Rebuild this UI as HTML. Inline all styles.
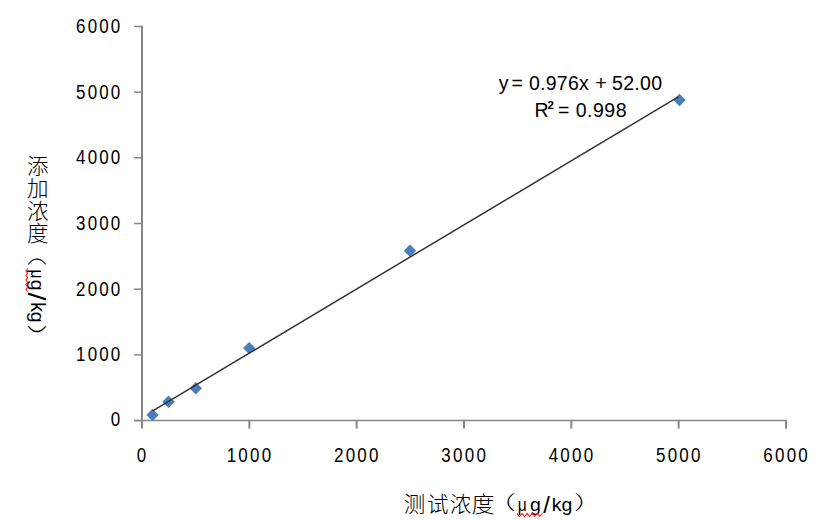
<!DOCTYPE html>
<html><head><meta charset="utf-8"><style>
html,body{margin:0;padding:0;background:#fff;}
body{width:828px;height:520px;overflow:hidden;}
svg{display:block;}
text{fill:#000;}
</style></head><body>
<svg width="828" height="520" viewBox="0 0 828 520">
<line x1="142.0" y1="25.75" x2="142.0" y2="428.6" stroke="#878787" stroke-width="2"/>
<line x1="134" y1="420.60" x2="142.0" y2="420.60" stroke="#878787" stroke-width="1.5"/>
<line x1="134" y1="354.91" x2="142.0" y2="354.91" stroke="#878787" stroke-width="1.5"/>
<line x1="134" y1="289.22" x2="142.0" y2="289.22" stroke="#878787" stroke-width="1.5"/>
<line x1="134" y1="223.53" x2="142.0" y2="223.53" stroke="#878787" stroke-width="1.5"/>
<line x1="134" y1="157.84" x2="142.0" y2="157.84" stroke="#878787" stroke-width="1.5"/>
<line x1="134" y1="92.15" x2="142.0" y2="92.15" stroke="#878787" stroke-width="1.5"/>
<line x1="134" y1="26.46" x2="142.0" y2="26.46" stroke="#878787" stroke-width="1.5"/>
<line x1="134" y1="420.6" x2="787" y2="420.6" stroke="#878787" stroke-width="1.5"/>
<line x1="249.33" y1="419.85" x2="249.33" y2="428.6" stroke="#878787" stroke-width="2"/>
<line x1="356.66" y1="419.85" x2="356.66" y2="428.6" stroke="#878787" stroke-width="2"/>
<line x1="463.99" y1="419.85" x2="463.99" y2="428.6" stroke="#878787" stroke-width="2"/>
<line x1="571.32" y1="419.85" x2="571.32" y2="428.6" stroke="#878787" stroke-width="2"/>
<line x1="678.65" y1="419.85" x2="678.65" y2="428.6" stroke="#878787" stroke-width="2"/>
<line x1="785.98" y1="419.85" x2="785.98" y2="428.6" stroke="#878787" stroke-width="2"/>
<polygon points="152.5,408.8 158.7,415.0 152.5,421.2 146.3,415.0" fill="#4a7ebb"/>
<polygon points="168.5,395.6 174.7,401.8 168.5,408.0 162.3,401.8" fill="#4a7ebb"/>
<polygon points="195.8,382.0 202.0,388.2 195.8,394.4 189.6,388.2" fill="#4a7ebb"/>
<polygon points="249.2,341.9 255.4,348.1 249.2,354.3 243.0,348.1" fill="#4a7ebb"/>
<polygon points="410.0,244.6 416.2,250.8 410.0,257.0 403.8,250.8" fill="#4a7ebb"/>
<polygon points="679.5,93.8 685.7,100.0 679.5,106.2 673.3,100.0" fill="#4a7ebb"/>
<line x1="152.73" y1="410.77" x2="678.65" y2="96.62" stroke="#333" stroke-width="1.5"/>
<text transform="translate(122.2,425.90) scale(0.87,1)" text-anchor="end" font-size="19.5" letter-spacing="2.4" font-family="Liberation Sans, sans-serif">0</text>
<text transform="translate(122.2,361.21) scale(0.87,1)" text-anchor="end" font-size="19.5" letter-spacing="2.4" font-family="Liberation Sans, sans-serif">1000</text>
<text transform="translate(122.2,295.52) scale(0.87,1)" text-anchor="end" font-size="19.5" letter-spacing="2.4" font-family="Liberation Sans, sans-serif">2000</text>
<text transform="translate(122.2,229.83) scale(0.87,1)" text-anchor="end" font-size="19.5" letter-spacing="2.4" font-family="Liberation Sans, sans-serif">3000</text>
<text transform="translate(122.2,164.14) scale(0.87,1)" text-anchor="end" font-size="19.5" letter-spacing="2.4" font-family="Liberation Sans, sans-serif">4000</text>
<text transform="translate(122.2,98.65) scale(0.87,1)" text-anchor="end" font-size="19.5" letter-spacing="2.4" font-family="Liberation Sans, sans-serif">5000</text>
<text transform="translate(122.2,33.06) scale(0.87,1)" text-anchor="end" font-size="19.5" letter-spacing="2.4" font-family="Liberation Sans, sans-serif">6000</text>
<text transform="translate(142.70,462.2) scale(0.87,1)" text-anchor="middle" font-size="19.5" letter-spacing="2.6" font-family="Liberation Sans, sans-serif">0</text>
<text transform="translate(250.03,462.2) scale(0.87,1)" text-anchor="middle" font-size="19.5" letter-spacing="2.6" font-family="Liberation Sans, sans-serif">1000</text>
<text transform="translate(357.36,462.2) scale(0.87,1)" text-anchor="middle" font-size="19.5" letter-spacing="2.6" font-family="Liberation Sans, sans-serif">2000</text>
<text transform="translate(464.69,462.2) scale(0.87,1)" text-anchor="middle" font-size="19.5" letter-spacing="2.6" font-family="Liberation Sans, sans-serif">3000</text>
<text transform="translate(572.02,462.2) scale(0.87,1)" text-anchor="middle" font-size="19.5" letter-spacing="2.6" font-family="Liberation Sans, sans-serif">4000</text>
<text transform="translate(679.35,462.2) scale(0.87,1)" text-anchor="middle" font-size="19.5" letter-spacing="2.6" font-family="Liberation Sans, sans-serif">5000</text>
<text transform="translate(786.68,462.2) scale(0.87,1)" text-anchor="middle" font-size="19.5" letter-spacing="2.6" font-family="Liberation Sans, sans-serif">6000</text>
<text y="90" font-size="19.5" font-family="Liberation Sans, sans-serif"><tspan x="498.7">y </tspan><tspan x="511.4">= </tspan><tspan x="529" letter-spacing="0.25">0.976x </tspan><tspan x="595.2" letter-spacing="0">+ </tspan><tspan x="612" letter-spacing="0.3">52.00</tspan></text>
<text y="117" font-size="19.5" font-family="Liberation Sans, sans-serif"><tspan x="534.5">R</tspan><tspan x="547.5" y="109.3" font-size="11.5" font-weight="bold">2</tspan><tspan x="558" y="117">= </tspan><tspan x="575.7" letter-spacing="0.5">0.998</tspan></text>
<text transform="translate(403.70,511.50)" font-size="21.5" font-family="Liberation Sans, Noto Sans CJK SC, sans-serif" font-weight="300">测</text>
<text transform="translate(426.90,511.50)" font-size="21.5" font-family="Liberation Sans, Noto Sans CJK SC, sans-serif" font-weight="300">试</text>
<text transform="translate(449.80,511.50)" font-size="21.5" font-family="Liberation Sans, Noto Sans CJK SC, sans-serif" font-weight="300">浓</text>
<text transform="translate(471.50,511.50) scale(1.07,1)" font-size="21.5" font-family="Liberation Sans, Noto Sans CJK SC, sans-serif" font-weight="300">度</text>
<text transform="translate(487.50,510.20) scale(1.3,0.88)" font-size="21.5" font-family="Liberation Sans, Noto Sans CJK SC, sans-serif" font-weight="300">（</text>
<text transform="translate(574.30,510.20) scale(1.3,0.88)" font-size="21.5" font-family="Liberation Sans, Noto Sans CJK SC, sans-serif" font-weight="300">）</text>
<text transform="translate(517.80,511.00) scale(0.8,0.91)" font-size="19.5" font-family="Liberation Sans, sans-serif">μ</text>
<text transform="translate(529.90,511.00) scale(1,0.91)" font-size="19.5" font-family="Liberation Sans, sans-serif">g</text>
<text transform="translate(543.20,513.20)" font-size="24" font-family="Liberation Sans, sans-serif">/</text>
<text transform="translate(551.80,511.00) scale(1,0.91)" font-size="19.5" font-family="Liberation Sans, sans-serif">k</text>
<text transform="translate(561.50,511.00) scale(1,0.91)" font-size="19.5" font-family="Liberation Sans, sans-serif">g</text>
<polyline points="516.9,513.4 519.4,516.5 522.0,513.4 524.5,516.5 527.1,513.4 529.6,516.5 532.2,513.4 534.7,516.5 537.3,513.4 539.8,516.5 542.4,513.4" fill="none" stroke="#ff2020" stroke-width="1.1"/>
<text transform="translate(27.00,174.30)" font-size="21.5" font-family="Liberation Sans, Noto Sans CJK SC, sans-serif" font-weight="300">添</text>
<text transform="translate(27.00,195.90)" font-size="21.5" font-family="Liberation Sans, Noto Sans CJK SC, sans-serif" font-weight="300">加</text>
<text transform="translate(27.00,219.30)" font-size="21.5" font-family="Liberation Sans, Noto Sans CJK SC, sans-serif" font-weight="300">浓</text>
<text transform="translate(27.00,241.30)" font-size="21.5" font-family="Liberation Sans, Noto Sans CJK SC, sans-serif" font-weight="300">度</text>
<text transform="translate(29.40,238.50) rotate(90) scale(1.3,0.88)" font-size="21.5" font-family="Liberation Sans, Noto Sans CJK SC, sans-serif" font-weight="300">（</text>
<text transform="translate(29.40,324.20) rotate(90) scale(1.3,0.88)" font-size="21.5" font-family="Liberation Sans, Noto Sans CJK SC, sans-serif" font-weight="300">）</text>
<text transform="translate(31.40,269.60) rotate(90) scale(0.8,0.9)" font-size="19.5" font-family="Liberation Sans, sans-serif">μ</text>
<text transform="translate(31.40,279.80) rotate(90) scale(1,0.9)" font-size="19.5" font-family="Liberation Sans, sans-serif">g</text>
<text transform="translate(28.00,292.60) rotate(90) scale(1.2,1)" font-size="24" font-family="Liberation Sans, sans-serif">/</text>
<text transform="translate(31.20,302.20) rotate(90)" font-size="19.5" font-family="Liberation Sans, sans-serif">k</text>
<text transform="translate(31.40,311.70) rotate(90) scale(1,0.9)" font-size="19.5" font-family="Liberation Sans, sans-serif">g</text>
<polyline points="27.7,268.6 25.9,270.9 27.7,273.2 25.9,275.5 27.7,277.8 25.9,280.1 27.7,282.4 25.9,284.7 27.7,287.0 25.9,289.3 27.7,291.6" fill="none" stroke="#ff2020" stroke-width="1.1"/>
</svg>
</body></html>
